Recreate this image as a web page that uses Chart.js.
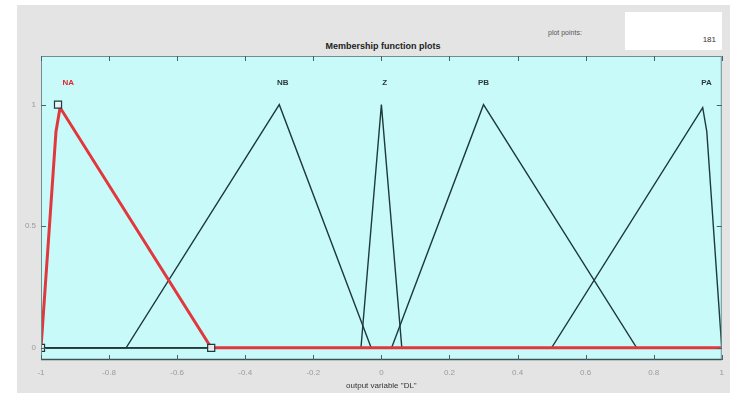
<!DOCTYPE html>
<html>
<head>
<meta charset="utf-8">
<script src="https://cdn.jsdelivr.net/npm/chart.js@4"></script>
<style>
  body { margin: 0; background: #fff; font-family: "Liberation Sans", Arial, sans-serif; }
  #panel { position: absolute; left: 17px; top: 5px; width: 713px; height: 388px; background: #e4e4e4; }
  #wrap { position: absolute; left: 0; top: 0; width: 732px; height: 395px; }
  #title { position: absolute; left: 283px; top: 41px; width: 200px; text-align: center; font-size: 9px; font-weight: bold; color: #222; }
  #ppLabel { position: absolute; left: 548px; top: 29px; font-size: 7px; color: #555; }
  #ppBox { position: absolute; left: 625px; top: 12px; width: 97px; height: 38px; background: #fff; }
  #ppVal { position: absolute; right: 6px; top: 23px; font-size: 8px; color: #333; }
</style>
</head>
<body>
<div id="panel"></div>
<div id="title">Membership function plots</div>
<div id="ppLabel">plot points:</div>
<div id="ppBox"><span id="ppVal">181</span></div>
<div id="wrap"><canvas id="mfChart" width="732" height="395"></canvas></div>
<script>
// membership functions (vertices)
const naX = [-1, -0.956, -0.944, -0.5, 1];
const naY = [0, 0.889, 0.988, 0, 0];
const nbX = [-1, -0.75, -0.3, -0.03, 1];
const nbY = [0, 0, 1, 0, 0];
const zX = [-1, -0.06, 0, 0.06, 1];
const zY = [0, 0, 1, 0, 0];
const pbX = [-1, 0.03, 0.3, 0.75, 1];
const pbY = [0, 0, 1, 0, 0];
const paX = [-1, 0.5, 0.944, 0.956, 1];
const paY = [0, 0, 0.988, 0.889, 0];

// selected MF parameter handles (NA)
const handleX = [-1, -0.95, -0.5];
const handleY = [0, 1, 0];

const mfNames = ['NA', 'NB', 'Z', 'PB', 'PA'];
const mfLabelX = [-0.92, -0.29, 0.01, 0.3, 0.955];
const mfLabelY = 1.09;

const xTicks = [-1, -0.8, -0.6, -0.4, -0.2, 0, 0.2, 0.4, 0.6, 0.8, 1];
const yTicks = [0, 0.5, 1];

const pts = (xs, ys) => xs.map((x, i) => ({ x: x, y: ys[i] }));

const mfLine = (label, xs, ys) => ({
    label: label,
    data: pts(xs, ys),
    showLine: true,
    borderColor: '#1e3a3a',
    borderWidth: 1.4,
    pointRadius: 0,
    tension: 0
});

const plotBg = {
    id: 'plotBg',
    beforeDraw(chart) {
        const { ctx, chartArea: a } = chart;
        ctx.save();
        ctx.fillStyle = '#c8fafa';
        ctx.fillRect(a.left, a.top, a.right - a.left, a.bottom - a.top);
        ctx.restore();
    },
    afterDatasetsDraw(chart) {
        const { ctx, chartArea: a, scales } = chart;
        ctx.save();
        // box
        ctx.strokeStyle = '#6f8f8f';
        ctx.lineWidth = 1;
        ctx.strokeRect(a.left + 0.5, a.top + 0.5, a.right - a.left - 1, a.bottom - a.top - 1);
        ctx.strokeStyle = '#3d5252';
        ctx.lineWidth = 1.5;
        ctx.beginPath();
        ctx.moveTo(a.left, a.bottom - 0.5);
        ctx.lineTo(a.right, a.bottom - 0.5);
        ctx.stroke();
        // inside ticks
        ctx.strokeStyle = '#4a6262';
        ctx.lineWidth = 1;
        ctx.beginPath();
        xTicks.forEach(v => {
            const px = Math.round(scales.x.getPixelForValue(v)) + 0.5;
            ctx.moveTo(px, a.bottom); ctx.lineTo(px, a.bottom - 5);
            ctx.moveTo(px, a.top); ctx.lineTo(px, a.top + 5);
        });
        yTicks.forEach(v => {
            const py = Math.round(scales.y.getPixelForValue(v)) + 0.5;
            ctx.moveTo(a.left, py); ctx.lineTo(a.left + 5, py);
            ctx.moveTo(a.right, py); ctx.lineTo(a.right - 5, py);
        });
        ctx.stroke();
        // MF names
        ctx.font = 'bold 8px "Liberation Sans", Arial, sans-serif';
        ctx.textAlign = 'center';
        ctx.textBaseline = 'middle';
        mfNames.forEach((n, i) => {
            ctx.fillStyle = i === 0 ? '#e02828' : '#2a3a3a';
            ctx.fillText(n, scales.x.getPixelForValue(mfLabelX[i]), scales.y.getPixelForValue(mfLabelY));
        });
        ctx.restore();
    }
};

new Chart(document.getElementById('mfChart').getContext('2d'), {
    type: 'scatter',
    data: {
        datasets: [
            {
                label: 'handles',
                data: pts(handleX, handleY),
                showLine: false,
                pointStyle: 'rect',
                pointRadius: 5,
                pointBorderColor: '#1e3a3a',
                pointBorderWidth: 1.2,
                pointBackgroundColor: 'rgba(235,245,250,0.9)',
                order: 0
            },
            {
                label: 'NA',
                data: pts(naX, naY),
                showLine: true,
                borderColor: '#e0383c',
                borderWidth: 3,
                pointRadius: 0,
                tension: 0,
                order: 1
            },
            Object.assign(mfLine('NB', nbX, nbY), { order: 2 }),
            Object.assign(mfLine('Z', zX, zY), { order: 3 }),
            Object.assign(mfLine('PB', pbX, pbY), { order: 4 }),
            Object.assign(mfLine('PA', paX, paY), { order: 5 })
        ]
    },
    options: {
        responsive: false,
        animation: false,
        layout: { padding: { left: 17, top: 56, right: 9, bottom: 0 } },
        plugins: { legend: { display: false }, tooltip: { enabled: false } },
        scales: {
            x: {
                type: 'linear',
                min: -1,
                max: 1,
                afterFit: s => { s.height = 35; },
                afterBuildTicks: s => { s.ticks = xTicks.map(v => ({ value: v })); },
                grid: { display: false, drawTicks: false },
                border: { display: false },
                ticks: {
                    padding: 8,
                    color: '#9a9a9a',
                    font: { size: 8 },
                    maxRotation: 0,
                    autoSkip: false,
                    callback: v => String(Math.round(v * 10) / 10)
                },
                title: {
                    display: true,
                    text: 'output variable "DL"',
                    color: '#333',
                    font: { size: 8 },
                    padding: { top: 0, bottom: 4 }
                }
            },
            y: {
                type: 'linear',
                min: -0.05,
                max: 1.2,
                afterFit: s => { s.width = 24; },
                afterBuildTicks: s => { s.ticks = yTicks.map(v => ({ value: v })); },
                grid: { display: false, drawTicks: false },
                border: { display: false },
                ticks: {
                    padding: 5,
                    color: '#9a9a9a',
                    font: { size: 8 },
                    callback: v => String(v)
                }
            }
        }
    },
    plugins: [plotBg]
});
</script>
</body>
</html>
